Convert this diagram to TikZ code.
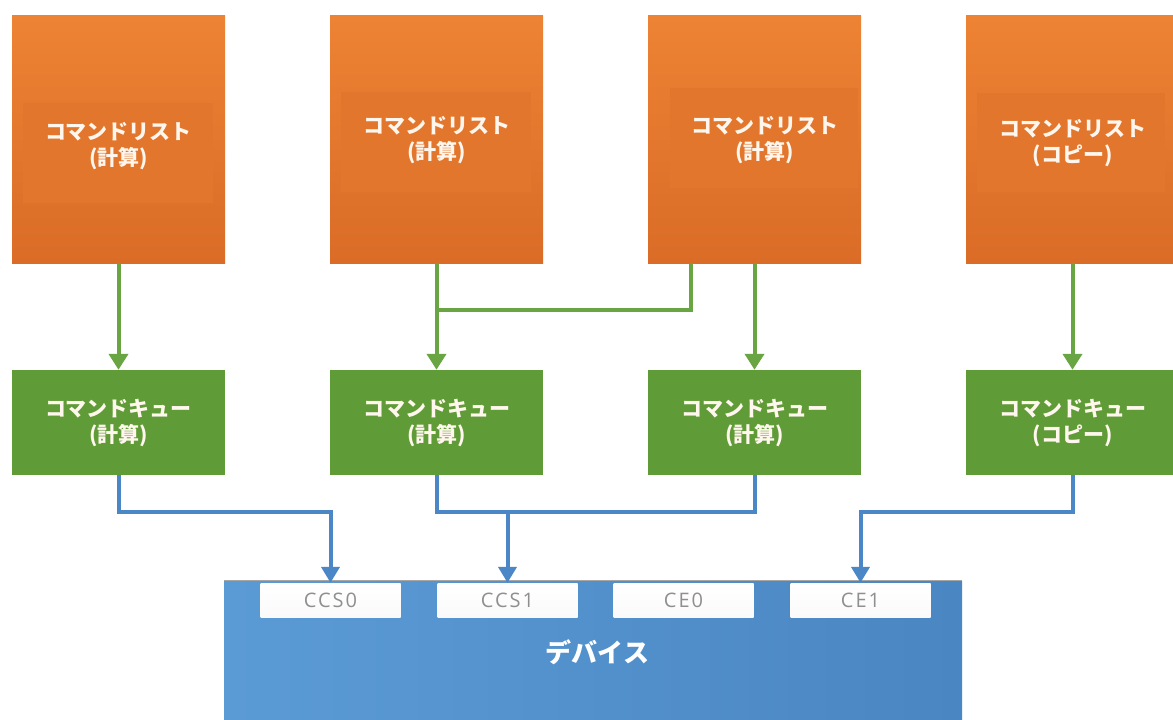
\documentclass[tikz,border=0pt]{standalone}
\usepackage{fontspec}
\newfontfamily\jp{Noto Sans CJK JP}
\newfontfamily\slotfont{Open Sans}[LetterSpace=10]
\usetikzlibrary{arrows.meta}
\definecolor{orgT}{HTML}{ED8334}
\definecolor{orgB}{HTML}{DA6C27}
\definecolor{orgM}{HTML}{E3762D}
\definecolor{grn}{HTML}{5F9B36}
\definecolor{grnline}{HTML}{6AA543}
\definecolor{bluL}{HTML}{5B9BD5}
\definecolor{bluR}{HTML}{4A86C2}
\definecolor{bluline}{HTML}{4B87C6}
\definecolor{slotgray}{HTML}{8F8F8F}
\definecolor{txtw}{HTML}{FFF7EE}
\begin{document}
\begin{tikzpicture}[x=1pt,y=-1pt,
  listbox/.style={rectangle, draw=none, inner sep=0pt, minimum width=213pt, minimum height=248pt, top color=orgT, bottom color=orgB},
  queuebox/.style={rectangle, draw=none, inner sep=0pt, minimum width=213pt, minimum height=105pt, fill=grn},
  jptext/.style={align=center, text=txtw, font=\jp\bfseries\fontsize{21}{26}\selectfont},
  slot/.style={rectangle, draw=none, inner sep=0pt, minimum width=140pt, minimum height=34pt, top color=white, bottom color=white!96!gray, text=slotgray, font=\slotfont\fontsize{20}{22}\selectfont},
  gline/.style={draw=grnline, line width=4pt},
  garrow/.style={gline, -{Triangle[width=19pt,length=16pt]}},
  bline/.style={draw=bluline, line width=4pt},
  barrow/.style={bline, -{Triangle[width=18pt,length=16pt]}}
]
\clip (0,0) rectangle (1173,720);
\fill[white] (0,0) rectangle (1173,720);

% command lists
\node[listbox] (l1) at (118.5,139) {};
\node[listbox] (l2) at (436.5,139) {};
\node[listbox] (l3) at (754.5,139) {};
\node[listbox] (l4) at (1072.5,139) {};
\fill[orgM] (23,103) rectangle (213,203);
\fill[orgM] (341,92) rectangle (531,192);
\fill[orgM] (670,88) rectangle (858,188);
\fill[orgM] (977,93) rectangle (1165,192);
\node[jptext] (t1) at (118.5,146) {コマンドリスト\\(計算)};
\node[jptext] (t2) at (436.5,140) {コマンドリスト\\(計算)};
\node[jptext] (t3) at (764.5,140) {コマンドリスト\\(計算)};
\node[jptext] (t4) at (1072.5,143) {コマンドリスト\\(コピー)};

% command queues
\node[queuebox, jptext] (q1) at (118.5,422.5) {コマンドキュー\\(計算)};
\node[queuebox, jptext] (q2) at (436.5,422.5) {コマンドキュー\\(計算)};
\node[queuebox, jptext] (q3) at (754.5,422.5) {コマンドキュー\\(計算)};
\node[queuebox, jptext] (q4) at (1072.5,422.5) {コマンドキュー\\(コピー)};

% device
\node[rectangle, draw=none, inner sep=0pt, minimum width=738pt, minimum height=160pt, left color=bluL, right color=bluR] (dev) at (593,661) {};
\draw[gray!70, line width=1pt] (dev.north west) -- (dev.north east);
\node[text=white, font=\jp\bfseries\fontsize{26}{30}\selectfont] (devt) at (597.5,652) {デバイス};
\node[slot] (s0) at (330.5,600) {CCS0};
\node[slot] (s1) at (507.5,600) {CCS1};
\node[slot] (s2) at (683.5,600) {CE0};
\node[slot] (s3) at (860.5,600) {CE1};

% green connectors
\coordinate (gj) at (436.5,310);
\draw[garrow] (l1.south) -- (q1.north);
\draw[garrow] (l2.south) -- (q2.north);
\draw[gline] ([xshift=-64pt]l3.south) |- (gj);
\draw[garrow] (l3.south) -- (q3.north);
\draw[garrow] (l4.south) -- (q4.north);

% blue connectors
\coordinate (hb) at (0,512);
\draw[barrow] (q1.south) |- (hb -| s0.north) -- (s0.north);
\draw[bline] (q2.south) |- (hb -| q3.south) -- (q3.south);
\draw[barrow] (s1.north |- hb) -- (s1.north);
\draw[barrow] (q4.south) |- (hb -| s3.north) -- (s3.north);
\end{tikzpicture}
\end{document}
